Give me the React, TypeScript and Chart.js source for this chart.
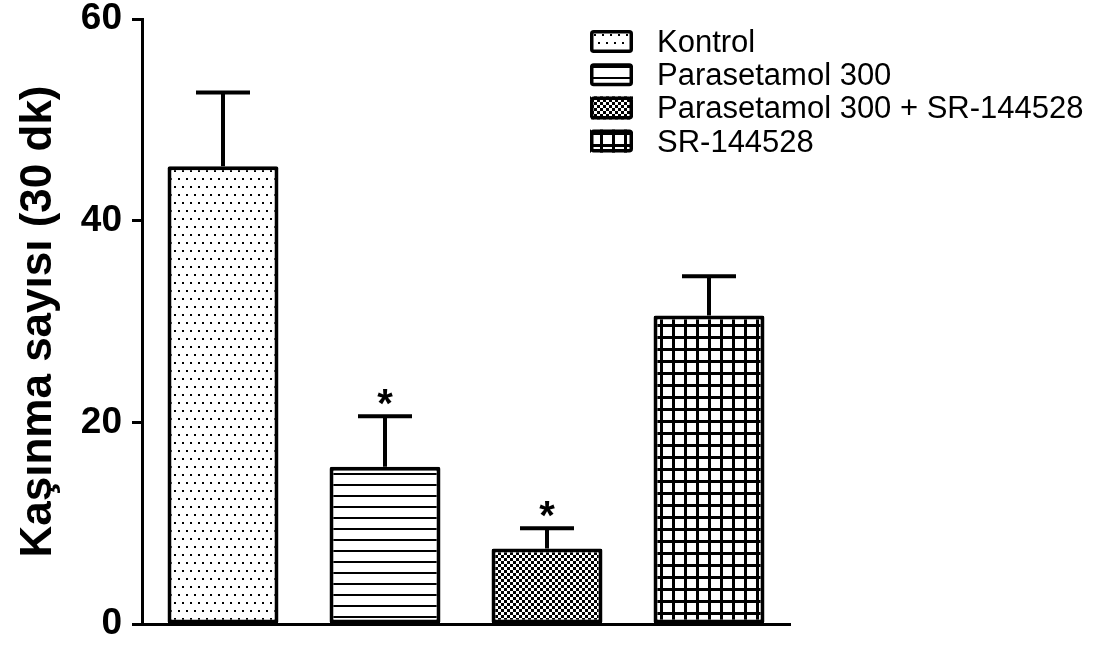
import React, { useEffect, useRef } from "react";
import { Chart, registerables } from "chart.js";

Chart.register(...registerables);

const categories = ["Kontrol", "Parasetamol 300", "Parasetamol 300 + SR-144528", "SR-144528"];
const means = [45.4, 15.6, 7.5, 30.6];
const sems = [7.3, 5.0, 2.0, 3.9];
const significant = [false, true, true, false];
const yTickStep = 20;
const yMin = 0;
const yMax = 60;
const yTitle = "Kaşınma sayısı (30 dk)";
const patternKinds = ["dots", "hlines", "checker", "grid"];

const FONT = "'Liberation Sans', Arial, Helvetica, sans-serif";

function makePattern(ctx: CanvasRenderingContext2D, kind: string): CanvasPattern | string {
  const c = document.createElement("canvas");
  const p = c.getContext("2d")!;
  if (kind === "dots") {
    c.width = 16; c.height = 16;
    p.fillStyle = "#fff"; p.fillRect(0, 0, 16, 16);
    p.fillStyle = "#000";
    p.fillRect(2, 2, 2, 2); p.fillRect(10, 2, 2, 2);
    p.fillRect(6, 10, 2, 2); p.fillRect(14, 10, 2, 2);
  } else if (kind === "hlines") {
    c.width = 8; c.height = 11;
    p.fillStyle = "#fff"; p.fillRect(0, 0, 8, 11);
    p.fillStyle = "#000"; p.fillRect(0, 0, 8, 2);
  } else if (kind === "checker") {
    c.width = 6; c.height = 6;
    p.fillStyle = "#fff"; p.fillRect(0, 0, 6, 6);
    p.fillStyle = "#000"; p.fillRect(0, 0, 3, 3); p.fillRect(3, 3, 3, 3);
  } else {
    c.width = 12; c.height = 12;
    p.fillStyle = "#fff"; p.fillRect(0, 0, 12, 12);
    p.fillStyle = "#000"; p.fillRect(0, 0, 12, 3); p.fillRect(0, 0, 3, 12);
  }
  return ctx.createPattern(c, "repeat") || "#fff";
}

export default function App() {
  const ref = useRef<HTMLCanvasElement | null>(null);
  useEffect(() => {
    const canvas = ref.current!;
    const ctx = canvas.getContext("2d")!;
    const patterns = patternKinds.map((k) => makePattern(ctx, k));

    const extras = {
      id: "extras",
      afterDatasetsDraw(chart: any) {
        const c = chart.ctx;
        const meta = chart.getDatasetMeta(0);
        const y = chart.scales.y;
        c.save();
        c.strokeStyle = "#000";
        c.fillStyle = "#000";
        c.lineWidth = 4;
        meta.data.forEach((bar: any, i: number) => {
          const x = bar.x;
          const yt = y.getPixelForValue(means[i]);
          const ye = y.getPixelForValue(means[i] + sems[i]);
          c.beginPath();
          c.moveTo(x, yt);
          c.lineTo(x, ye);
          c.moveTo(x - 27, ye);
          c.lineTo(x + 27, ye);
          c.stroke();
          if (significant[i]) {
            c.font = `bold 40px ${FONT}`;
            c.textAlign = "center";
            c.textBaseline = "alphabetic";
            c.fillText("*", x, ye + 1);
          }
        });
        c.restore();
      },
      afterDraw(chart: any) {
        const c = chart.ctx;
        c.save();
        categories.forEach((label, i) => {
          const bx = 590, by = 30 + 33.2 * i, bw = 43, bh = 23;
          c.fillStyle = patterns[i];
          c.fillRect(bx, by, bw, bh);
          c.strokeStyle = "#000";
          c.lineWidth = 3.5;
          c.beginPath();
          c.roundRect ? c.roundRect(bx + 1.75, by + 1.75, bw - 3.5, bh - 3.5, 2) : c.rect(bx + 1.75, by + 1.75, bw - 3.5, bh - 3.5);
          c.stroke();
          c.fillStyle = "#000";
          c.font = `31px ${FONT}`;
          c.textAlign = "left";
          c.textBaseline = "alphabetic";
          c.fillText(label, 657, by + bh / 2 + 10.5);
        });
        c.restore();
      },
    };

    const chart = new Chart(ctx, {
      type: "bar",
      data: {
        labels: categories,
        datasets: [
          {
            data: means,
            backgroundColor: patterns as any,
            borderColor: "#000",
            borderWidth: 4,
            borderSkipped: false,
            borderRadius: 2,
            categoryPercentage: 1,
            barPercentage: 0.685,
          },
        ],
      },
      options: {
        responsive: false,
        animation: false,
        devicePixelRatio: 1,
        layout: { padding: { left: 0, right: 303, top: 19, bottom: 0 } },
        plugins: { legend: { display: false }, tooltip: { enabled: false } },
        scales: {
          x: {
            type: "category",
            ticks: { display: false },
            grid: { display: false },
            border: { display: true, color: "#000", width: 3 },
            afterFit: (s: any) => {
              s.height = 21;
              s.paddingLeft = 0; s.paddingRight = 0; s.paddingTop = 0; s.paddingBottom = 0;
            },
          },
          y: {
            min: yMin,
            max: yMax,
            ticks: {
              stepSize: yTickStep,
              color: "#000",
              padding: 10,
              font: { family: FONT, size: 37, weight: "bold" },
            },
            grid: {
              drawOnChartArea: false,
              drawTicks: true,
              tickLength: 10,
              tickWidth: 3,
              tickColor: "#000",
            },
            border: { display: true, color: "#000", width: 3 },
            title: {
              display: true,
              text: yTitle,
              color: "#000",
              font: { family: FONT, size: 44, weight: "bold" },
              padding: { top: 12, bottom: 0 },
            },
            afterFit: (s: any) => {
              s.width = 142;
              s.paddingTop = 0; s.paddingBottom = 0; s.paddingLeft = 0; s.paddingRight = 0;
            },
          },
        },
      },
      plugins: [extras],
    } as any);
    return () => chart.destroy();
  }, []);

  return (
    <div style={{ position: "absolute", left: 0, top: 0, width: 1093, height: 645, background: "#fff" }}>
      <canvas ref={ref} width={1093} height={645} style={{ display: "block", width: 1093, height: 645 }} />
    </div>
  );
}
